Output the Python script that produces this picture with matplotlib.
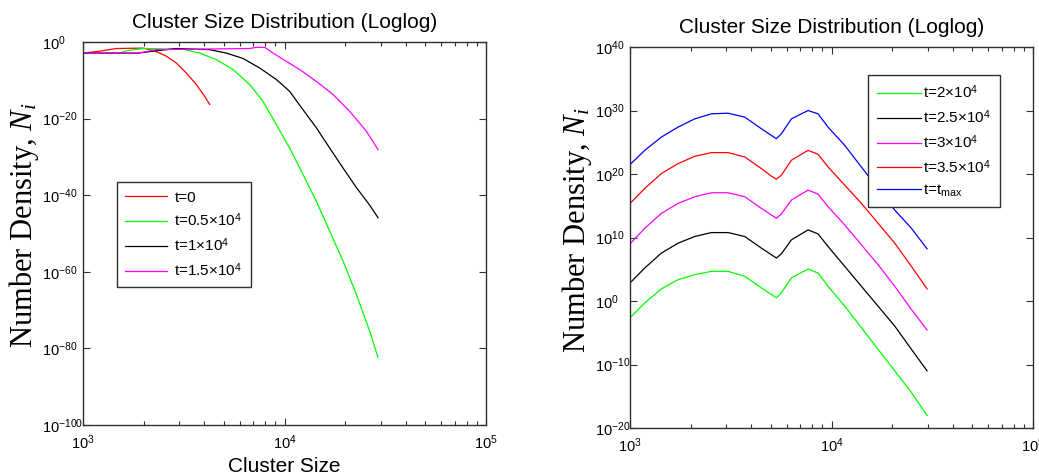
import numpy as np
import matplotlib.pyplot as plt
from matplotlib.ticker import FixedLocator, NullLocator, FuncFormatter, LogLocator

plt.rcParams['font.family'] = ['Liberation Sans', 'DejaVu Sans']
plt.rcParams['mathtext.fontset'] = 'custom'
plt.rcParams['mathtext.rm'] = 'Liberation Sans'
plt.rcParams['mathtext.it'] = 'Liberation Serif:italic'
plt.rcParams['mathtext.bf'] = 'Liberation Sans:bold'

# =========================
# Data (exponents = log10 of number density)
# =========================
# left panel: early times
left_t0_size = [1000, 1210, 1463, 1986, 2268, 2592, 2905, 3256, 3650, 4016, 4252]
left_t0_exp = [-2.9, -2.4, -1.7, -1.6, -2.3, -3.7, -5.5, -8.1, -11.1, -14.2, -16.3]

left_t05_size = [1000, 1521, 1641, 1986, 3135, 3793, 4588, 5551, 6716, 7823, 9110, 10607,
                 12354, 14388, 16757, 19512, 22726, 26464, 29110]
left_t05_exp = [-2.9, -2.9, -2.3, -1.7, -1.9, -2.9, -4.6, -7.2, -11.1, -15.5, -21.6, -27.7,
                -34.6, -41.6, -49.4, -57.2, -65.9, -75.5, -82.4]

left_t1_size = [1000, 1875, 2311, 2905, 4252, 5144, 6223, 7530, 9110, 10607, 12354, 14388,
                16757, 19512, 22726, 26464, 29110]
left_t1_exp = [-2.9, -2.9, -2.3, -1.7, -2.0, -2.9, -4.3, -6.8, -9.8, -12.9, -17.7, -22.4,
               -27.7, -32.9, -38.0, -42.6, -45.9]

left_t15_size = [1000, 1875, 2311, 6716, 7248, 7973, 8769, 9887, 11893, 14388, 17402, 21054,
                 25480, 29110]
left_t15_exp = [-2.9, -2.9, -2.0, -1.7, -1.4, -1.4, -2.9, -4.6, -7.2, -10.3, -13.7, -18.1,
                -23.3, -28.1]

left_labels = ['t=0', 't=0.5\u00d710$^4$', 't=1\u00d710$^4$', 't=1.5\u00d710$^4$']

# right panel: later times (shared cluster sizes)
right_size = [1000, 1183, 1431, 1731, 2094, 2533, 3065, 3708, 4485, 5028, 5323, 5636,
              6319, 7643, 8570, 9607, 11622, 14063, 17013, 20581, 24900, 29780]
right_t2_exp = [-2.64, -0.29, 1.91, 3.37, 4.15, 4.67, 4.67, 3.89, 2.06, 1.02, 0.5, 1.28,
                3.63, 5.04, 4.41, 2.32, -0.81, -4.2, -7.6, -10.99, -14.39, -18.04]
right_t25_exp = [2.85, 5.2, 7.55, 9.11, 10.16, 10.78, 10.78, 10.16, 8.33, 7.29, 6.76, 7.44,
                 9.63, 11.2, 10.57, 8.59, 5.46, 2.32, -0.81, -3.94, -7.6, -10.99]
right_t3_exp = [9.0, 11.46, 13.81, 15.38, 16.42, 17.05, 17.05, 16.42, 14.6, 13.55, 13.03, 13.71,
                15.9, 17.47, 16.84, 14.86, 11.98, 8.85, 5.72, 2.32, -1.33, -4.57]
right_t35_exp = [15.38, 17.73, 20.08, 21.64, 22.79, 23.37, 23.37, 22.69, 20.86, 19.66, 19.19, 19.82,
                 22.17, 23.73, 23.11, 21.12, 18.25, 15.38, 12.25, 9.11, 5.46, 1.91]
right_tmax_exp = [21.49, 23.73, 25.82, 27.39, 28.69, 29.48, 29.58, 28.96, 27.13, 26.08, 25.56, 26.34,
                  28.69, 30.0, 29.48, 27.39, 24.52, 21.1, 17.7, 14.33, 11.46, 8.22]

right_labels = ['t=2\u00d710$^4$', 't=2.5\u00d710$^4$', 't=3\u00d710$^4$',
                't=3.5\u00d710$^4$', 't=t$_{\\mathrm{max}}$']

left_yticks_exp = [0, -20, -40, -60, -80, -100]
right_yticks_exp = [40, 30, 20, 10, 0, -10, -20]
xticks_exp = [3, 4, 5]

title = 'Cluster Size Distribution (Loglog)'
ylabel = 'Number Density, $N_i$'


def pow10(v, pos=None):
    return r'$\mathdefault{10^{%d}}$' % int(round(np.log10(v)))


def style_axes(ax, yexp, ytick_pad):
    ax.set_xscale('log')
    ax.set_yscale('log')
    ax.set_xlim(1e3, 1e5)
    ax.set_ylim(10.0 ** min(yexp), 10.0 ** max(yexp))
    ax.xaxis.set_major_locator(FixedLocator([10.0 ** e for e in xticks_exp]))
    ax.xaxis.set_minor_locator(LogLocator(base=10, subs=np.arange(2, 10)))
    ax.xaxis.set_major_formatter(FuncFormatter(pow10))
    ax.xaxis.set_minor_formatter(FuncFormatter(lambda v, p: ''))
    ax.yaxis.set_major_locator(FixedLocator([10.0 ** e for e in yexp]))
    ax.yaxis.set_minor_locator(NullLocator())
    ax.yaxis.set_major_formatter(FuncFormatter(pow10))
    ax.tick_params(which='both', direction='in', top=True, right=True,
                   color='#303030', width=0.8, labelsize=10.5)
    ax.tick_params(which='major', length=5)
    ax.tick_params(which='minor', length=3)
    ax.tick_params(axis='x', pad=6)
    ax.tick_params(axis='y', pad=ytick_pad)
    for lab in ax.get_yticklabels():
        lab.set_ha('left')
    for sp in ax.spines.values():
        sp.set_color('#303030')
        sp.set_linewidth(1.0)
    ax.set_title(title, fontsize=15, y=1.036, va='baseline', pad=0)
    ax.set_ylabel(ylabel, family=['Liberation Serif'], fontsize=22)


fig = plt.figure(figsize=(10.39, 4.75), dpi=100)

# =========================
# Left panel
# =========================
ax1 = fig.add_axes([0.0799, 0.1053, 0.3879, 0.8063])
ax1.plot(left_t0_size, 10.0 ** np.array(left_t0_exp), color='#ff0000', lw=0.9, label=left_labels[0])
ax1.plot(left_t05_size, 10.0 ** np.array(left_t05_exp), color='#00ff00', lw=0.9, label=left_labels[1])
ax1.plot(left_t1_size, 10.0 ** np.array(left_t1_exp), color='#000000', lw=0.9, label=left_labels[2])
ax1.plot(left_t15_size, 10.0 ** np.array(left_t15_exp), color='#ff00ff', lw=0.9, label=left_labels[3])
style_axes(ax1, left_yticks_exp, 29.5)
ax1.yaxis.set_label_coords(-0.1266, 0.52)
ax1.yaxis.label.set_va('baseline')
ax1.set_xlabel('Cluster Size', fontsize=15)
ax1.xaxis.set_label_coords(0.5, -0.1227)
ax1.xaxis.label.set_va('baseline')
leg1 = ax1.legend(loc='upper left', bbox_to_anchor=(0.0844, 0.634), borderaxespad=0,
                  fontsize=11, fancybox=False, framealpha=1, edgecolor='#303030',
                  handlelength=2.75, handletextpad=0.45, borderpad=0.55, labelspacing=0.45)
leg1.get_frame().set_linewidth(1.0)

# =========================
# Right panel
# =========================
ax2 = fig.add_axes([0.6064, 0.0989, 0.3879, 0.8021])
right_series = [right_t2_exp, right_t25_exp, right_t3_exp, right_t35_exp, right_tmax_exp]
right_colors = ['#00ff00', '#000000', '#ff00ff', '#ff0000', '#0000ff']
for exps, col, lab in zip(right_series, right_colors, right_labels):
    ax2.plot(right_size, 10.0 ** np.array(exps), color=col, lw=0.9, label=lab)
style_axes(ax2, right_yticks_exp, 25.2)
ax2.yaxis.set_label_coords(-0.1117, 0.52)
ax2.yaxis.label.set_va('baseline')
leg2 = ax2.legend(loc='upper left', bbox_to_anchor=(0.591, 0.9265), borderaxespad=0,
                  fontsize=11, fancybox=False, framealpha=1, edgecolor='#303030',
                  handlelength=2.9, handletextpad=0.15, borderpad=0.55, labelspacing=0.45)
leg2.get_frame().set_linewidth(1.0)

fig.savefig('out.png', dpi=100)
